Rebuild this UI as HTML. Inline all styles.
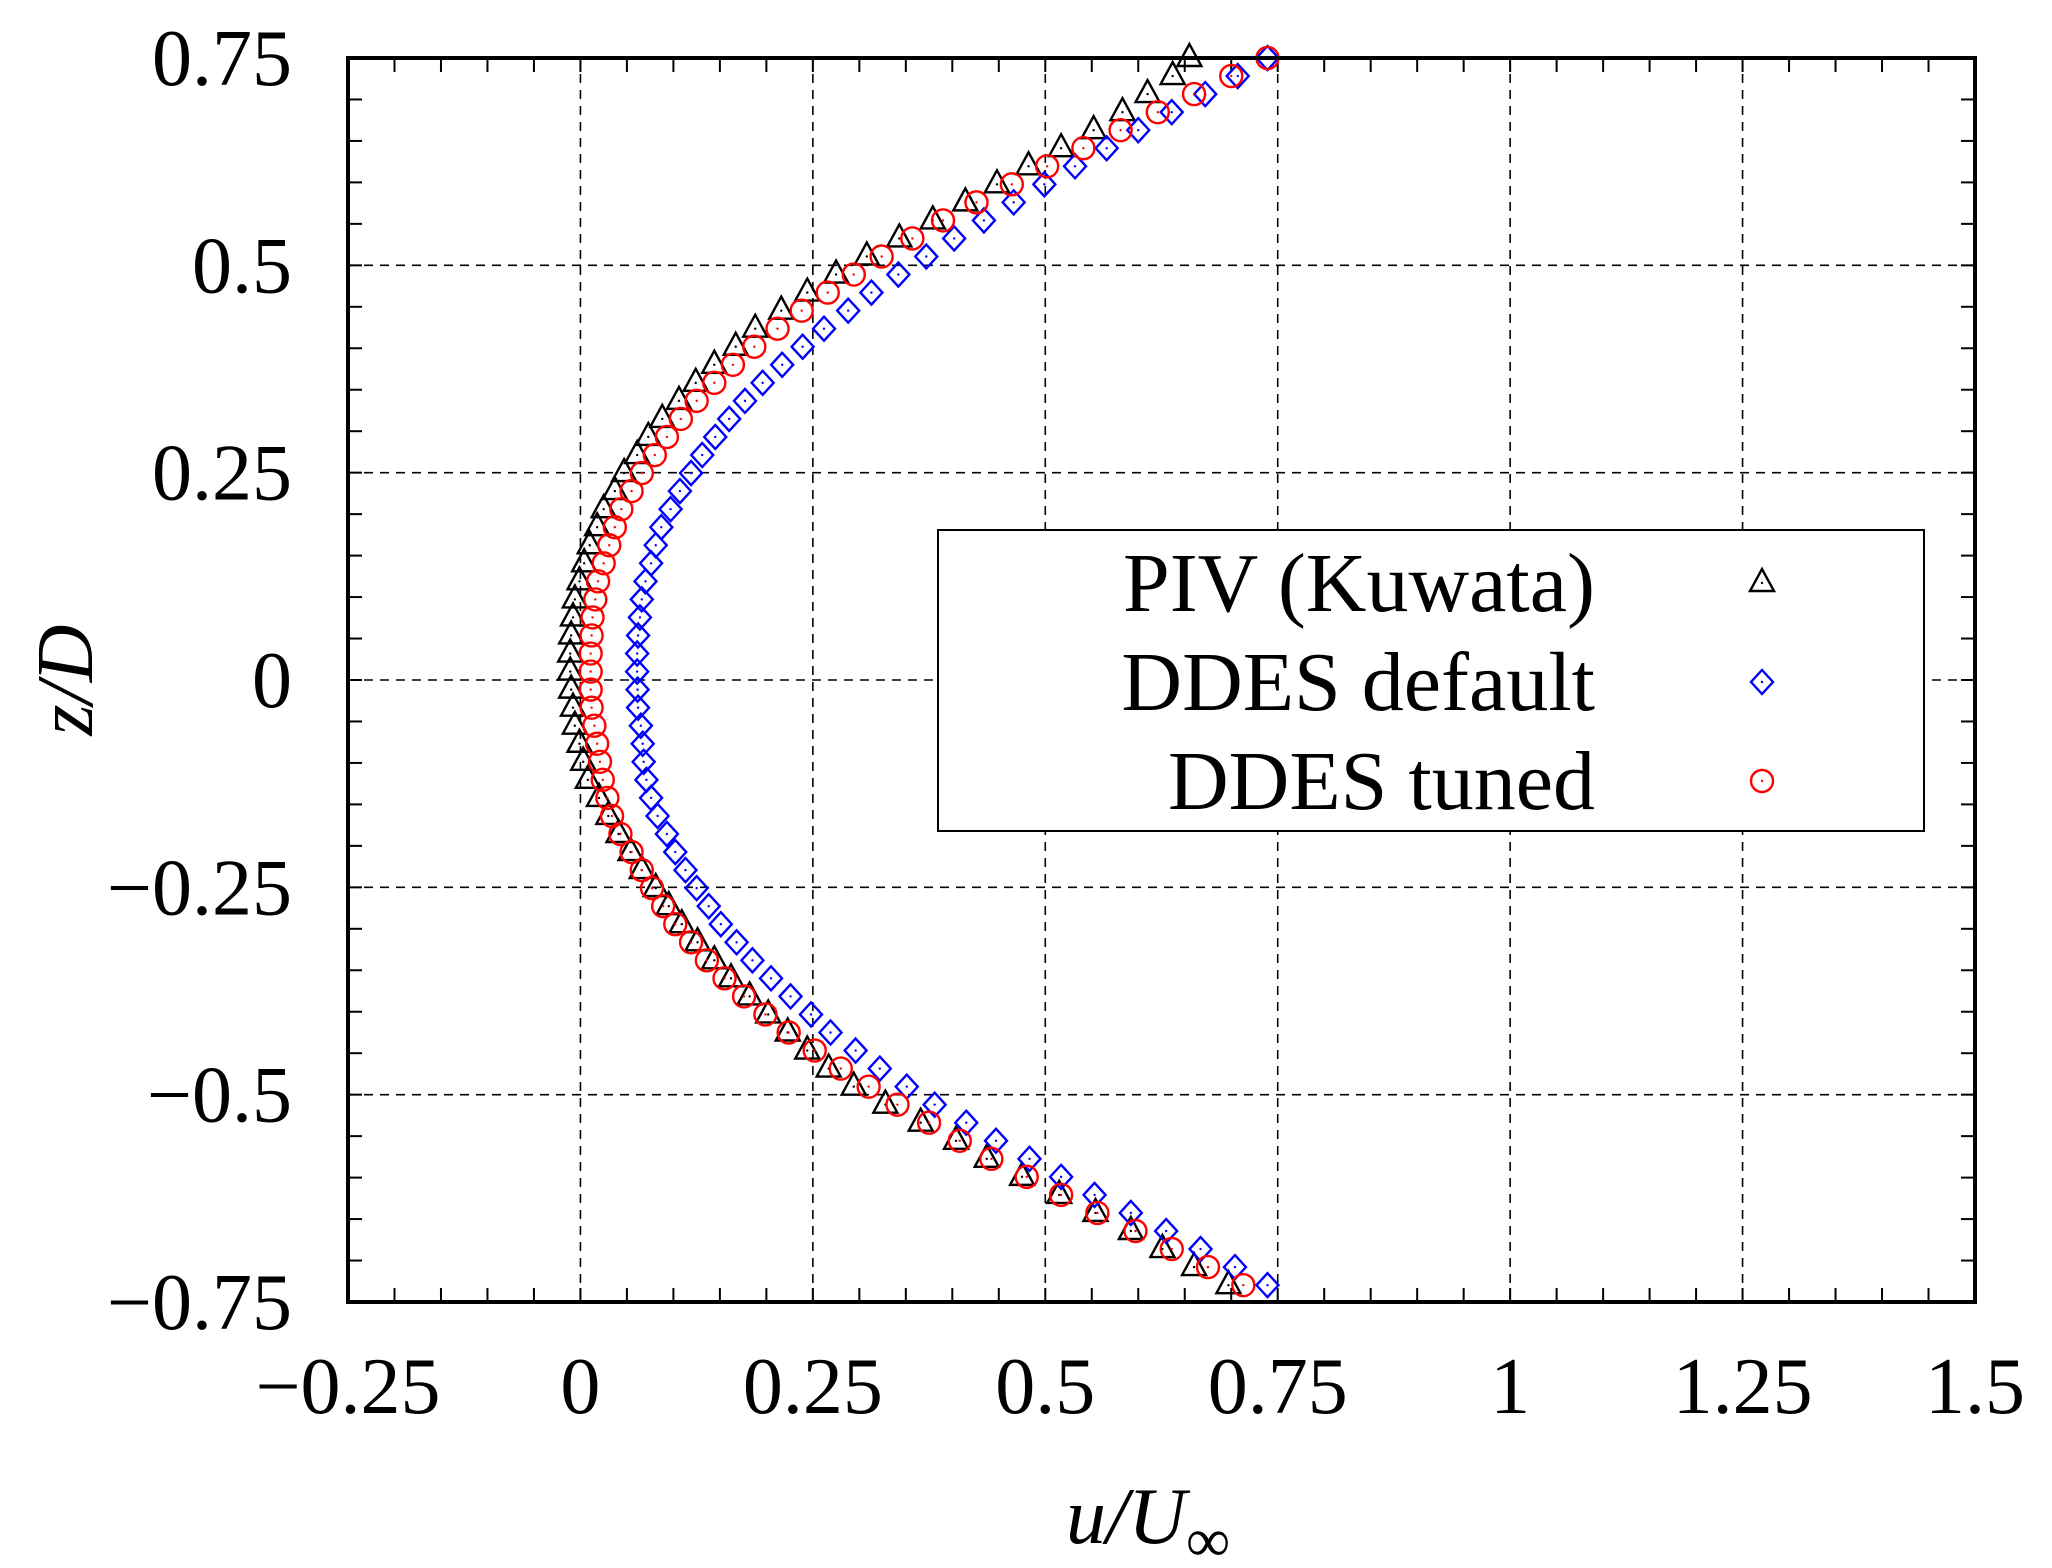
<!DOCTYPE html>
<html><head><meta charset="utf-8"><style>
html,body{margin:0;padding:0;background:#fff;}
svg{display:block;}
text{font-family:"Liberation Serif","DejaVu Serif",serif;fill:#000;}
</style></head>
<body>
<svg id="chart" width="2052" height="1568" viewBox="0 0 2052 1568" xmlns="http://www.w3.org/2000/svg">
<g id="grid"></g>
<g id="ticks"></g>
<g id="marks"></g>
<rect x="348" y="58" width="1627" height="1244" fill="none" stroke="#000" stroke-width="4"/>
<g id="labels"></g>
<text transform="translate(92,680) rotate(-90)" text-anchor="middle" font-size="80" font-style="italic">z/D</text>
<text x="1066" y="1543" font-size="80" font-style="italic">u/U<tspan font-style="normal" font-size="62" dy="18">∞</tspan></text>
<g id="legend">
<rect x="938" y="530" width="986" height="301" fill="#fff" stroke="#000" stroke-width="2"/>
<text x="1595" y="611" text-anchor="end" font-size="84">PIV (Kuwata)</text>
<text x="1595" y="710" text-anchor="end" font-size="84">DDES default</text>
<text x="1595" y="809" text-anchor="end" font-size="84">DDES tuned</text>
</g>
</svg>
<script>
const xTicks = [-0.25, 0, 0.25, 0.5, 0.75, 1, 1.25, 1.5];
const xTickLabels = ["−0.25", "0", "0.25", "0.5", "0.75", "1", "1.25", "1.5"];
const yTicks = [0.75, 0.5, 0.25, 0, -0.25, -0.5, -0.75];
const yTickLabels = ["0.75", "0.5", "0.25", "0", "−0.25", "−0.5", "−0.75"];
const zTop = 0.75;
const zStep = 0.02176;
const pivU = [0.655,0.637,0.61,0.583,0.552,0.517,0.482,0.448,0.414,0.379,0.343,0.308,0.275,0.244,0.216,0.188,0.167,0.144,0.124,0.106,0.088,0.073,0.061,0.047,0.037,0.025,0.018,0.010,0.004,-0.001,-0.006,-0.008,-0.01,-0.011,-0.011,
 -0.01,-0.008,-0.006,-0.001,0.003,0.008,0.02,0.03,0.041,0.054,0.066,0.081,0.095,0.109,0.126,0.144,0.162,0.182,0.202,0.223,0.244,0.267,0.294,0.328,0.366,0.404,0.437,0.475,0.515,0.554,0.592,0.626,0.66,0.697];
const defaultU = [0.739,0.707,0.672,0.636,0.6,0.566,0.532,0.499,0.466,0.434,0.402,0.372,0.342,0.313,0.288,0.262,0.239,0.217,0.196,0.177,0.160,0.145,0.131,0.119,0.107,0.097,0.087,0.081,0.076,0.07,0.066,0.064,0.062,0.061,0.061,
 0.0615,0.062,0.065,0.067,0.068,0.071,0.076,0.083,0.093,0.102,0.113,0.125,0.138,0.151,0.168,0.185,0.205,0.226,0.248,0.269,0.296,0.322,0.351,0.381,0.415,0.447,0.483,0.517,0.553,0.592,0.63,0.667,0.704,0.739];
const tunedU = [0.739,0.7,0.66,0.621,0.581,0.541,0.502,0.464,0.426,0.39,0.357,0.324,0.294,0.266,0.238,0.212,0.187,0.164,0.144,0.125,0.108,0.093,0.08,0.066,0.055,0.044,0.037,0.031,0.025,0.019,0.016,0.013,0.012,0.011,0.011,
 0.011,0.012,0.015,0.018,0.021,0.024,0.029,0.034,0.043,0.055,0.066,0.077,0.089,0.102,0.119,0.136,0.155,0.176,0.199,0.224,0.252,0.28,0.31,0.341,0.375,0.408,0.442,0.48,0.517,0.556,0.597,0.636,0.675,0.713];

const NS = "http://www.w3.org/2000/svg";
const X0 = 348, X1 = 1975, Y0 = 58, Y1 = 1302;
const xs = v => X0 + (v + 0.25) / 1.75 * (X1 - X0);
const ys = v => Y1 - (v + 0.75) / 1.5 * (Y1 - Y0);
function mk(tag, attrs, parent) {
  const e = document.createElementNS(NS, tag);
  for (const k in attrs) e.setAttribute(k, attrs[k]);
  parent.appendChild(e);
  return e;
}
const grid = document.getElementById('grid');
const ticks = document.getElementById('ticks');
const labels = document.getElementById('labels');
const marks = document.getElementById('marks');
const legend = document.getElementById('legend');

xTicks.forEach((v, i) => {
  const x = xs(v);
  if (i > 0 && i < xTicks.length - 1) {
    const g = mk('line', {x1: x, x2: x, y1: Y0, y2: Y1, stroke: '#000', 'stroke-width': 1.6, 'stroke-dasharray': '9 7'}, grid);
    
    
  }
  const t = mk('text', {x: x, y: 1413, 'text-anchor': 'middle', 'font-size': 80}, labels);
  t.textContent = xTickLabels[i];
  
  
});
yTicks.forEach((v, i) => {
  const y = ys(v);
  if (i > 0 && i < yTicks.length - 1) {
    const g = mk('line', {x1: X0, x2: X1, y1: y, y2: y, stroke: '#000', 'stroke-width': 1.6, 'stroke-dasharray': '9 7'}, grid);
    
    
  }
  const t = mk('text', {x: 292, y: y + 27, 'text-anchor': 'end', 'font-size': 80}, labels);
  t.textContent = yTickLabels[i];
  
  
});
for (let k = 0; k <= 35; k++) {
  const x = xs(-0.25 + k * 0.05);
  const a = mk('line', {x1: x, x2: x, y1: Y1, y2: Y1 - 14, stroke: '#000', 'stroke-width': 2}, ticks);
  
  
  const b = mk('line', {x1: x, x2: x, y1: Y0, y2: Y0 + 14, stroke: '#000', 'stroke-width': 2}, ticks);
  
  
}
for (let k = 0; k <= 30; k++) {
  const y = ys(-0.75 + k * 0.05);
  const a = mk('line', {x1: X0, x2: X0 + 14, y1: y, y2: y, stroke: '#000', 'stroke-width': 2}, ticks);
  
  
  const b = mk('line', {x1: X1, x2: X1 - 14, y1: y, y2: y, stroke: '#000', 'stroke-width': 2}, ticks);
  
  
}

function tri(cx, cy, parent, name) {
  const g = mk('g', {}, parent);
  
  
  mk('polygon', {points: `${cx-12},${cy+8} ${cx+12},${cy+8} ${cx},${cy-14}`, fill: 'none', stroke: '#000', 'stroke-width': 2.4}, g);
  mk('circle', {cx: cx, cy: cy, r: 1.2, fill: '#000'}, g);
}
function dia(cx, cy, parent, name) {
  const g = mk('g', {}, parent);
  
  
  mk('polygon', {points: `${cx},${cy-12} ${cx+11},${cy} ${cx},${cy+12} ${cx-11},${cy}`, fill: 'none', stroke: '#0000ff', 'stroke-width': 2.4}, g);
  mk('circle', {cx: cx, cy: cy, r: 1.2, fill: '#0000ff'}, g);
}
function circ(cx, cy, parent, name) {
  const g = mk('g', {}, parent);
  
  
  mk('circle', {cx: cx, cy: cy, r: 11, fill: 'none', stroke: '#ff0000', 'stroke-width': 2.4}, g);
  mk('circle', {cx: cx, cy: cy, r: 1.2, fill: '#ff0000'}, g);
}
pivU.forEach((u, i) => tri(xs(u), ys(zTop - i * zStep), marks, 'piv-point'));
defaultU.forEach((u, i) => dia(xs(u), ys(zTop - i * zStep), marks, 'ddes-default-point'));
tunedU.forEach((u, i) => circ(xs(u), ys(zTop - i * zStep), marks, 'ddes-tuned-point'));
tri(1762, 583, legend, 'legend-marker-piv');
dia(1762, 682, legend, 'legend-marker-ddes-default');
circ(1762, 781, legend, 'legend-marker-ddes-tuned');
</script>
</body></html>
